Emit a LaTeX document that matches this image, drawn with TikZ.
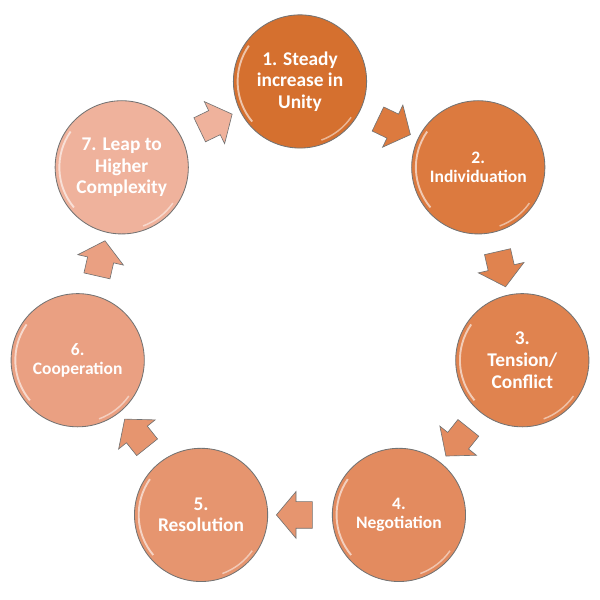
\documentclass[tikz,border=0pt]{standalone}
\usepackage{fontspec}
\setmainfont{Carlito}
\usetikzlibrary{shapes.arrows,calc}
\definecolor{stepA}{HTML}{D5702F}
\definecolor{stepB}{HTML}{DC7A3F}
\definecolor{stepC}{HTML}{E0834F}
\definecolor{stepD}{HTML}{E38B5F}
\definecolor{stepE}{HTML}{E6956F}
\definecolor{stepF}{HTML}{EAA082}
\definecolor{stepG}{HTML}{EFB29C}
\begin{document}
\begin{tikzpicture}[
  stage/.style={circle, draw=black!55, line width=0.4pt, minimum size=2.22cm, inner sep=0pt,
    align=center, text=white, font=\bfseries\fontsize{9.2}{10.3}\selectfont},
  stagesmall/.style={stage, font=\bfseries\fontsize{8.3}{8.8}\selectfont},
  flow/.style={single arrow, draw=black!55, line width=0.3pt, minimum height=0.6cm,
    inner xsep=0pt, inner ysep=0.217cm, single arrow head extend=0.167cm,
    single arrow tip angle=100}
]
\useasboundingbox (0,0) rectangle (10,10);
\node[stage, fill=stepA] (c1) at (5,8.642) {1. Steady\\increase in\\Unity};
\node[stagesmall, fill=stepB] (c2) at (7.971,7.211) {2.\\Individuation};
\node[stage, fill=stepC] (c3) at (8.705,3.996) {3.\\Tension/\\Conflict};
\node[stagesmall, fill=stepD] (c4) at (6.649,1.418) {4.\\Negotiation};
\node[stage, fill=stepE] (c5) at (3.351,1.418) {5.\\Resolution};
\node[stagesmall, fill=stepF] (c6) at (1.295,3.996) {6.\\Cooperation};
\node[stage, fill=stepG] (c7) at (2.029,7.211) {7. Leap to\\Higher\\Complexity};

\foreach \n in {1,...,7}{
  \draw[white, opacity=.6, line width=0.9pt] ($(c\n)+(145:1.04)$) arc (145:220:1.04);
  \draw[white, opacity=.5, line width=0.7pt] ($(c\n)+(290:1.04)$) arc (290:325:1.04);
}

\node[flow, fill=stepB, rotate=-25.71] (a12) at ($(c1)!0.5!(c2)$) {};
\node[flow, fill=stepC, rotate=-77.14] (a23) at ($(c2)!0.5!(c3)$) {};
\node[flow, fill=stepD, rotate=-128.57] (a34) at ($(c3)!0.5!(c4)$) {};
\node[flow, fill=stepE, rotate=180] (a45) at ($(c4)!0.5!(c5)$) {};
\node[flow, fill=stepE, rotate=128.57] (a56) at ($(c5)!0.5!(c6)$) {};
\node[flow, fill=stepF, rotate=77.14] (a67) at ($(c6)!0.5!(c7)$) {};
\node[flow, fill=stepG, rotate=25.71] (a71) at ($(c7)!0.5!(c1)$) {};
\end{tikzpicture}
\end{document}
